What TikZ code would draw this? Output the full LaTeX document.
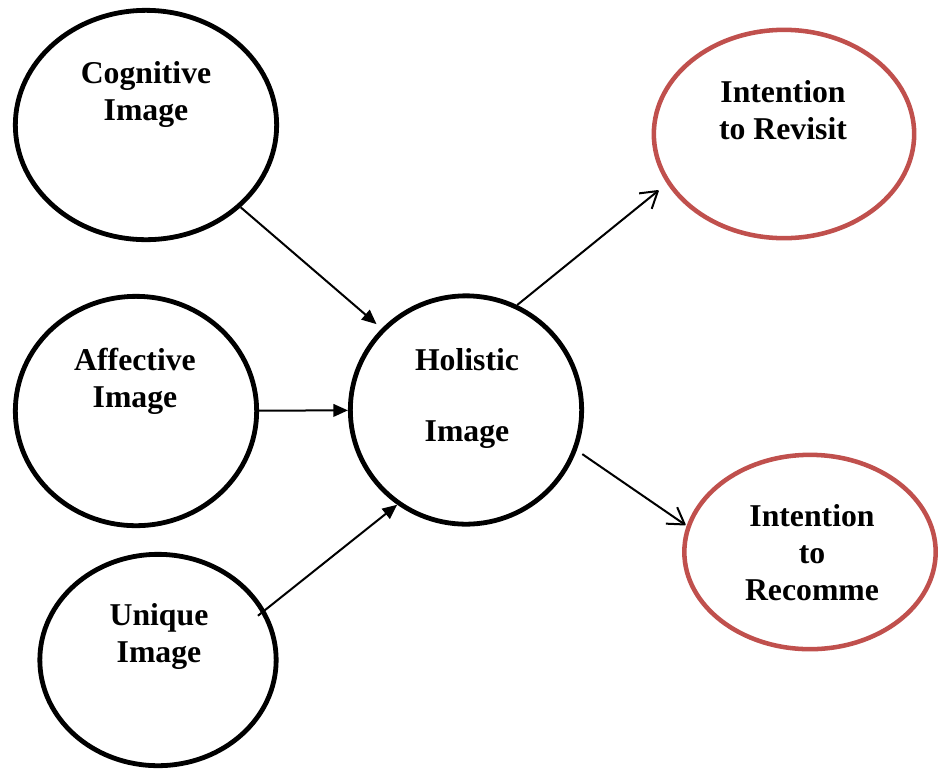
\documentclass[tikz,border=0pt]{standalone}
\usepackage{fontspec}
\setmainfont{Liberation Serif}
\usetikzlibrary{arrows.meta,shapes.geometric}
\definecolor{ringred}{HTML}{C0504D}
\begin{document}
\begin{tikzpicture}[x=0.75pt,y=-0.75pt,
  ring/.style={ellipse,draw=black,line width=3.6pt,inner sep=0pt},
  redring/.style={ring,draw=ringred,line width=3.4pt},
  lbl/.style={align=center,inner sep=0pt,font=\fontsize{23.8pt}{27.75pt}\selectfont\bfseries},
  feed/.style={line width=1.5pt,-{Triangle[length=11pt,width=9.5pt]}},
  lead/.style={line width=1.5pt,line join=round,-{Straight Barb[length=12pt,width=15pt,line join=round]}}]
\useasboundingbox[fill=white] (0,0) rectangle (941,769);

% constructs
\node[ring,minimum width=196pt,minimum height=172pt] (cog) at (146,125) {};
\node[ring,minimum width=181pt,minimum height=172pt] (aff) at (136,411) {};
\node[ring,minimum width=177.25pt,minimum height=158.5pt] (uni) at (158,660) {};
\node[ring,minimum width=173.5pt,minimum height=171.25pt] (hol) at (466,410) {};
\node[redring,minimum width=195.25pt,minimum height=156.25pt] (rev) at (784,134) {};
\node[redring,minimum width=188.5pt,minimum height=145.75pt] (rec) at (810,552) {};

% labels
\node[lbl] (cogt) at (146,94.5) {Cognitive\\Image};
\node[lbl] (afft) at (135,381) {Affective\\Image};
\node[lbl] (unit) at (159,636) {Unique\\Image};
\node[lbl] (holt) at (467,398.5) {Holistic\\[25.5pt]Image};
\node[lbl] (revt) at (783,110.5) {Intention\\to Revisit};
\node[lbl] (rect) at (812,553) {Intention\\to\\Recomme};

% paths
\draw[feed,shorten >=5pt] (cog.-41.4) -- (hol.136);
\draw[feed] (aff) -- (hol);
\draw[feed,shorten <=-6.75pt] (uni.25) -- (hol.234);
\draw[lead,shorten >=8pt] (hol.64) -- (rev.203.5);
\draw[lead,shorten <=5pt,shorten >=1pt] (hol.-20) -- (rec.168);
\end{tikzpicture}
\end{document}
